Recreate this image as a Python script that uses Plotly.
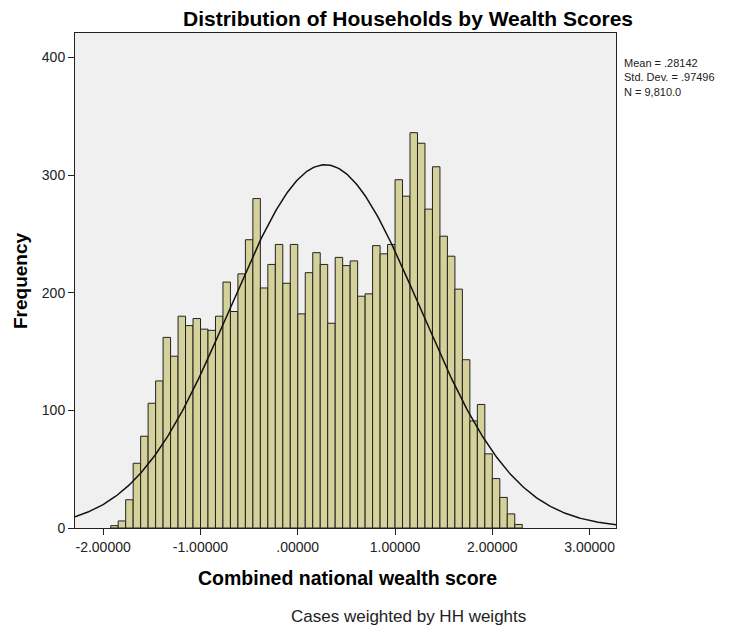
import numpy as np
import plotly.graph_objects as go

# Histogram data
bin_start = -1.922
bin_width = 0.0769
counts = [2, 6, 24, 55, 78, 106, 125, 162, 146, 180, 172, 178, 169, 168, 180, 209, 184,
          216, 245, 280, 204, 224, 241, 208, 241, 182, 217, 234, 224, 174, 230, 223, 227,
          197, 199,
          240, 233, 241, 296, 282, 336, 327, 271, 307, 248, 231, 203, 143, 91, 105, 63,
          42, 26, 12, 3]
mean_val = 0.28142
sd_val = 0.97496
n_val = 9810.0
stats_lines = ["Mean = .28142", "Std. Dev. = .97496", "N = 9,810.0"]

tick_vals = [-2, -1, 0, 1, 2, 3]
tick_text = ["-2.00000", "-1.00000", ".00000", "1.00000", "2.00000", "3.00000"]
y_tick_vals = [0, 100, 200, 300, 400]

x_range = [-2.289, 3.271]
y_range = [0, 420.7]

centers = [bin_start + bin_width * (i + 0.5) for i in range(len(counts))]

cx = np.linspace(x_range[0], x_range[1], 400)
cy = n_val * bin_width / (sd_val * np.sqrt(2 * np.pi)) * np.exp(-0.5 * ((cx - mean_val) / sd_val) ** 2)

fig = go.Figure()
fig.add_trace(go.Bar(x=centers, y=counts, width=bin_width,
                     marker=dict(color="#D5D19A", line=dict(color="#222222", width=1)),
                     hoverinfo="skip"))
fig.add_trace(go.Scatter(x=cx, y=cy, mode="lines", line=dict(color="#111111", width=1.5),
                         hoverinfo="skip"))

# plot area in page px: x 75..616, y 33..528
def fx(px):
    return (px - 75) / 541.0

def fy(py):
    return (528 - py) / 495.0

annos = [
    dict(text="<b>Distribution of Households by Wealth Scores</b>", x=fx(408), y=fy(18),
         font=dict(size=21, color="black")),
    dict(text="<b>Combined national wealth score</b>", x=fx(347), y=fy(578),
         font=dict(size=19.5, color="black")),
    dict(text="<b>Frequency</b>", x=fx(20), y=fy(281), textangle=-90,
         font=dict(size=19, color="black")),
    dict(text="Cases weighted by HH weights", x=fx(408), y=fy(616),
         font=dict(size=17, color="#222222")),
]
for a in annos:
    a.update(xref="paper", yref="paper", showarrow=False, xanchor="center", yanchor="middle")
annos.append(dict(text="<br>".join(stats_lines), x=fx(622), y=fy(77), xref="paper", yref="paper",
                  xanchor="left", yanchor="middle", align="left", showarrow=False,
                  font=dict(size=11, color="#222222")))

font = "Liberation Sans, Arial, sans-serif"
fig.update_layout(
    width=745, height=629,
    margin=dict(l=75, r=129, t=33, b=101),
    paper_bgcolor="white", plot_bgcolor="#F0F0F0",
    showlegend=False, bargap=0, hovermode=False,
    font=dict(family=font, size=14, color="#222222"),
    xaxis=dict(range=x_range, tickvals=tick_vals, ticktext=tick_text,
               ticks="outside", ticklen=6, tickcolor="#222222", showgrid=False,
               zeroline=False, showline=True, linecolor="#222222", linewidth=1, mirror=True,
               tickfont=dict(size=14, color="#222222")),
    yaxis=dict(range=y_range, tickvals=y_tick_vals, ticks="outside", ticklen=6,
               tickcolor="#222222", showgrid=False, zeroline=False, showline=True,
               linecolor="#222222", linewidth=1, mirror=True,
               tickfont=dict(size=14, color="#222222")),
    annotations=annos,
)

fig.write_html("out.html", config={"displayModeBar": False, "staticPlot": True},
               post_script="document.body.style.margin='0';document.body.style.overflow='hidden';")
